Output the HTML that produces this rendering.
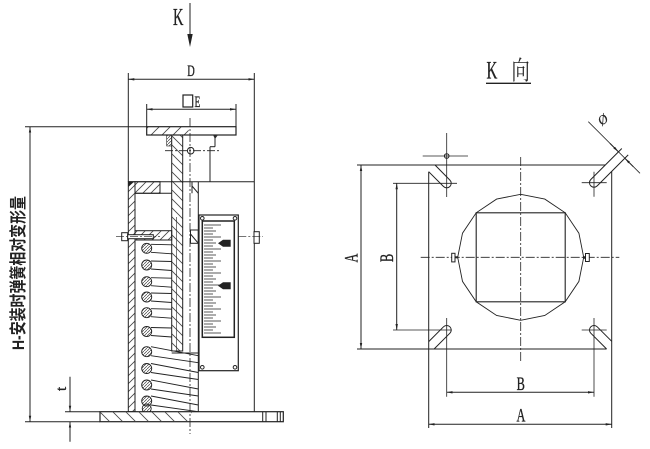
<!DOCTYPE html>
<html><head><meta charset="utf-8">
<style>html,body{margin:0;padding:0;background:#fff}svg{display:block}</style>
</head><body>
<svg width="650" height="449" viewBox="0 0 650 449" xmlns="http://www.w3.org/2000/svg">
<defs>
<marker id="ar" viewBox="0 0 10 4" refX="10" refY="2" markerWidth="6" markerHeight="2.6" markerUnits="userSpaceOnUse" orient="auto-start-reverse"><path d="M0,0 L10,2 L0,4 z" fill="#222"/></marker>
<pattern id="hf" width="8" height="8" patternUnits="userSpaceOnUse"><path d="M0,8 L8,0 M-1,1 L1,-1 M7,9 L9,7" stroke="#444" stroke-width="0.8"/></pattern>
<pattern id="hp" width="11" height="11" patternUnits="userSpaceOnUse"><path d="M0,11 L11,0 M-1,1 L1,-1 M10,12 L12,10" stroke="#444" stroke-width="0.8"/></pattern>
<pattern id="hb" width="9" height="9" patternUnits="userSpaceOnUse"><path d="M0,0 L9,9 M8,-1 L10,1 M-1,8 L1,10" stroke="#444" stroke-width="0.8"/></pattern>
<pattern id="hb2" width="13" height="13" patternUnits="userSpaceOnUse"><path d="M0,0 L13,13 M12,-1 L14,1 M-1,12 L1,14" stroke="#444" stroke-width="0.8"/></pattern>
<pattern id="hs" width="3" height="3" patternUnits="userSpaceOnUse"><path d="M0,3 L3,0" stroke="#444" stroke-width="0.7"/></pattern>
</defs>
<rect width="650" height="449" fill="#fff"/>

<g font-family="'Liberation Serif', serif" fill="#222" stroke="#222" stroke-width="0.35">
<text transform="translate(173,25) scale(0.6,1)" font-size="24">K</text>
<text transform="translate(187.3,76) scale(0.65,1)" font-size="16">D</text>
<text transform="translate(194.5,107) scale(0.6,1)" font-size="16">E</text>
<text transform="translate(66,391) rotate(-90)" font-size="15">t</text>
<text transform="translate(486.5,78.5) scale(0.6,1)" font-size="25">K</text>
<text transform="translate(516.6,390) scale(0.65,1)" font-size="19">B</text>
<text transform="translate(516.5,421.5) scale(0.65,1)" font-size="19">A</text>
<text transform="translate(357.5,262.5) rotate(-90) scale(0.65,1)" font-size="19">A</text>
<text transform="translate(393,262) rotate(-90) scale(0.65,1)" font-size="19">B</text>
<text transform="translate(602,126) rotate(-40)" font-size="13" font-style="italic" stroke-width="0.2">Ø</text>
</g>
<text transform="translate(511.5,79.5) scale(0.7,1)" font-size="26" font-family="'Liberation Serif','Noto Serif CJK SC','Noto Sans CJK SC',serif" fill="#222">向</text>
<text transform="translate(24,350) rotate(-90) scale(0.82,1)" font-size="17" font-weight="bold" font-family="'Liberation Sans','Noto Sans CJK SC',sans-serif" fill="#222">H-安装时弹簧相对变形量</text>

<g fill="none" stroke="#222" stroke-width="1">
<!-- K arrow -->
<line x1="190" y1="3" x2="190" y2="36"/>
<polygon points="187.3,34 192.7,34 190,47" fill="#222" stroke="none"/>
<!-- D dim -->
<line x1="128.3" y1="79.3" x2="254.3" y2="79.3" marker-start="url(#ar)" marker-end="url(#ar)"/>
<line x1="128.3" y1="73" x2="128.3" y2="181.7"/>
<line x1="254.3" y1="73" x2="254.3" y2="411.7"/>
<!-- E -->
<rect x="183" y="95" width="9.7" height="12" stroke-width="1.2"/>
<line x1="146.7" y1="109.3" x2="236" y2="109.3" marker-start="url(#ar)" marker-end="url(#ar)"/>
<line x1="146.7" y1="104" x2="146.7" y2="126.7"/>
<line x1="236" y1="104" x2="236" y2="126.7"/>
<!-- top plate -->
<rect x="146.7" y="126.7" width="42" height="8.3" fill="url(#hp)" stroke="none"/>
<rect x="146.7" y="126.7" width="89.3" height="8.3" stroke-width="1.2"/>
<line x1="25" y1="126.7" x2="146.7" y2="126.7"/>
<!-- shoulder / welds -->
<rect x="166.7" y="135" width="5" height="11" fill="url(#hs)" stroke-width="0.6"/>
<polygon points="213,135 218,135 215,139" fill="#333" stroke="none"/>
<line x1="215" y1="135" x2="215" y2="146.7"/>
<line x1="210" y1="146.7" x2="215" y2="146.7"/>
<line x1="210" y1="146.7" x2="210" y2="181.7"/>
<!-- column -->
<rect x="171.7" y="135" width="11" height="216" fill="url(#hb)"/>
<line x1="176.7" y1="217" x2="176.7" y2="351" stroke-width="0.6"/>
<circle cx="190.7" cy="150.7" r="3.3"/>
<line x1="165" y1="150.7" x2="220" y2="150.7" stroke-dasharray="8,2,2,2" stroke-width="0.8"/>
<!-- housing -->
<line x1="128.3" y1="181.7" x2="254.3" y2="181.7"/>
<rect x="128.3" y="181.7" width="6.7" height="230" fill="url(#hf)"/>
<rect x="135" y="181.7" width="25" height="11.6" fill="url(#hf)"/>
<line x1="135" y1="193.3" x2="171.7" y2="193.3"/>
<polygon points="128.3,181.7 134,181.7 128.3,187" fill="#222" stroke="none"/>
<rect x="135" y="230.7" width="36.7" height="9.3" fill="url(#hf)"/>
<rect x="121.7" y="232.7" width="6" height="8" fill="#fff"/>
<rect x="127.7" y="234.7" width="25.6" height="4" fill="#fff"/>
<line x1="116" y1="236.7" x2="160" y2="236.7" stroke-dasharray="8,2,2,2" stroke-width="0.7"/>
<line x1="198.3" y1="181.7" x2="198.3" y2="411.7"/>
<line x1="192" y1="181.7" x2="192" y2="193.3"/>
<line x1="192" y1="186" x2="198.3" y2="193.3"/>
<rect x="190.5" y="230" width="7.8" height="13.3"/>
<line x1="190.5" y1="234" x2="198.3" y2="243.3"/>
<line x1="171.7" y1="353" x2="198.3" y2="353"/>
<!-- scale box -->
<rect x="199" y="215" width="39.3" height="155.7" stroke-width="1.2"/>
<circle cx="202.3" cy="218.3" r="1.8"/><circle cx="235" cy="218.3" r="1.8"/>
<circle cx="202.3" cy="367.3" r="1.8"/><circle cx="235" cy="367.3" r="1.8"/>
<rect x="202.3" y="221" width="32" height="116.3" stroke-width="1.5"/>
<path stroke-width="0.8" d="M204,225H221M204,228H213M204,231H216M204,234H213M204,237H221M204,240H213M204,243H216M204,246H213M204,249H221M204,252H213M204,255H216M204,258H213M204,261H221M204,264H213M204,267H216M204,270H213M204,273H221M204,276H213M204,279H216M204,282H213M204,285H221M204,288H213M204,291H216M204,294H213M204,297H221M204,300H213M204,303H216M204,306H213M204,309H221M204,312H213M204,315H216M204,318H213M204,321H221M204,324H213M204,327H216M204,330H213M204,333H221"/>
<polygon points="218,243.3 223,239.8 230.7,239.8 230.7,246.8 223,246.8" fill="#222" stroke="none"/>
<polygon points="218,285.7 223,282.2 230.7,282.2 230.7,289.2 223,289.2" fill="#222" stroke="none"/>
<rect x="254" y="231.7" width="5.3" height="11.6" fill="#fff"/>
<line x1="238.3" y1="236.7" x2="263" y2="236.7" stroke-dasharray="8,2,2,2" stroke-width="0.7"/>
<!-- spring lines -->
<path stroke-width="0.9" d="M151,244.3L171.7,244.8M151,252.3L171.7,253.8M151,261L171.7,261.5M151,269L171.7,270.5M151,277.7L171.7,278.2M151,285.7L171.7,287.2M151,293L171.7,293.5M151,301L171.7,302.5M151,308.7L171.7,309.2M151,316.7L171.7,318.2M151,327.5L171.7,328M151,335.5L171.7,337M151,346.7L198.3,355.7M151,355.7L198.3,362.7M151,363.5L198.3,372.5M151,372.5L198.3,379.5M151,380L198.3,389M151,389L198.3,396M151,396L198.3,405M151,405L198.3,411.7"/>
<g fill="url(#hs)" stroke-width="0.9">
<circle cx="146.7" cy="248.3" r="5"/><circle cx="146.7" cy="265" r="5"/><circle cx="146.7" cy="281.7" r="5"/>
<circle cx="146.7" cy="297" r="5"/><circle cx="146.7" cy="312.7" r="5"/><circle cx="146.7" cy="331.5" r="5"/>
<circle cx="146.7" cy="351.7" r="5"/><circle cx="146.7" cy="368.5" r="5"/><circle cx="146.7" cy="385" r="5"/>
<circle cx="146.7" cy="401" r="5"/><circle cx="146.7" cy="408.5" r="4.5"/>
</g>
<!-- bottom plate -->
<rect x="100" y="411.7" width="183.3" height="10" fill="#fff" stroke-width="1.2"/>
<rect x="100" y="411.7" width="91.7" height="10" fill="url(#hb2)" stroke="none"/>
<path d="M262.7,411.7V421.7M266,411.7V421.7M277.3,411.7V421.7M280.3,411.7V421.7"/>
<line x1="190" y1="118" x2="190" y2="434" stroke-dasharray="9,2,2,2" stroke-width="0.8"/>
<!-- H dim -->
<line x1="30" y1="126.7" x2="30" y2="421.7" marker-start="url(#ar)" marker-end="url(#ar)"/>
<line x1="25" y1="421.7" x2="100" y2="421.7"/>
<!-- t dim -->
<line x1="70" y1="376.7" x2="70" y2="411.7" marker-end="url(#ar)"/>
<line x1="70" y1="441.7" x2="70" y2="421.7" marker-end="url(#ar)"/>
<line x1="65" y1="411.7" x2="100" y2="411.7"/>

<!-- RIGHT VIEW -->
<line x1="486" y1="83.3" x2="531" y2="83.3" stroke-width="1.3"/>
<line x1="357" y1="165" x2="605.3" y2="165"/>
<line x1="357" y1="349" x2="606.6" y2="349"/>
<line x1="428.7" y1="171.7" x2="428.7" y2="428"/>
<line x1="611.7" y1="171.4" x2="611.7" y2="428"/>
<path d="M435,165 L449.9,180.1 A4.5,4.5 0 0 1 443.5,186.5 L428.7,171.7"/>
<path d="M621.8,148.5 L590.8,179.5 A4.5,4.5 0 0 0 597.2,185.9 L628.2,154.9"/>
<path d="M434.1,349 L449.9,333.2 A4.5,4.5 0 0 0 443.5,326.8 L428.7,341.6"/>
<path d="M611.7,341.3 L597.2,326.8 A4.5,4.5 0 0 0 590.8,333.2 L606.6,349"/>
<!-- phi dim -->
<line x1="588.3" y1="121.7" x2="640" y2="173.3" stroke-width="0.8"/>
<line x1="610" y1="143.4" x2="618.4" y2="151.8" marker-end="url(#ar)"/>
<line x1="633.3" y1="166.7" x2="624.9" y2="158.3" marker-end="url(#ar)"/>
<!-- crosshairs -->
<path stroke-width="0.8" d="M446.7,133V197M422.7,156H468M393,183.3H457M594,171.7V196.7M581.7,182.7H606.7M446.7,318V396.7M393,330H451.7M594,318V396.7M581.7,330H606.7"/>
<circle cx="446.7" cy="156" r="2.3"/>
<!-- circle polygon & square -->
<polygon stroke-width="0.9" points="583.7,257.3 578.9,233.2 565.2,212.8 544.8,199.1 520.7,194.3 496.6,199.1 476.2,212.8 462.5,233.2 457.7,257.3 462.5,281.4 476.2,301.8 496.6,315.5 520.7,320.3 544.8,315.5 565.2,301.8 578.9,281.4"/>
<rect x="476.2" y="212.8" width="89" height="89" stroke-width="1.1"/>
<line x1="420.7" y1="257.3" x2="619.3" y2="257.3" stroke-dasharray="9,2,2,2" stroke-width="0.8"/>
<line x1="520.7" y1="157" x2="520.7" y2="361.7" stroke-dasharray="9,2,2,2" stroke-width="0.8"/>
<rect x="451.7" y="253.3" width="3.3" height="8.6" fill="#fff"/>
<line x1="455" y1="257.3" x2="458" y2="257.3" stroke-width="2"/>
<rect x="585.5" y="253.5" width="3.8" height="8" fill="#fff"/>
<line x1="583" y1="257.5" x2="585.5" y2="257.5" stroke-width="2.5"/>
<!-- dims -->
<line x1="446.7" y1="392.3" x2="594" y2="392.3" marker-start="url(#ar)" marker-end="url(#ar)"/>
<line x1="428.7" y1="424.3" x2="611.7" y2="424.3" marker-start="url(#ar)" marker-end="url(#ar)"/>
<line x1="361" y1="165" x2="361" y2="349" marker-start="url(#ar)" marker-end="url(#ar)"/>
<line x1="396.7" y1="183.3" x2="396.7" y2="330" marker-start="url(#ar)" marker-end="url(#ar)"/>
</g>
</svg>
</body></html>
